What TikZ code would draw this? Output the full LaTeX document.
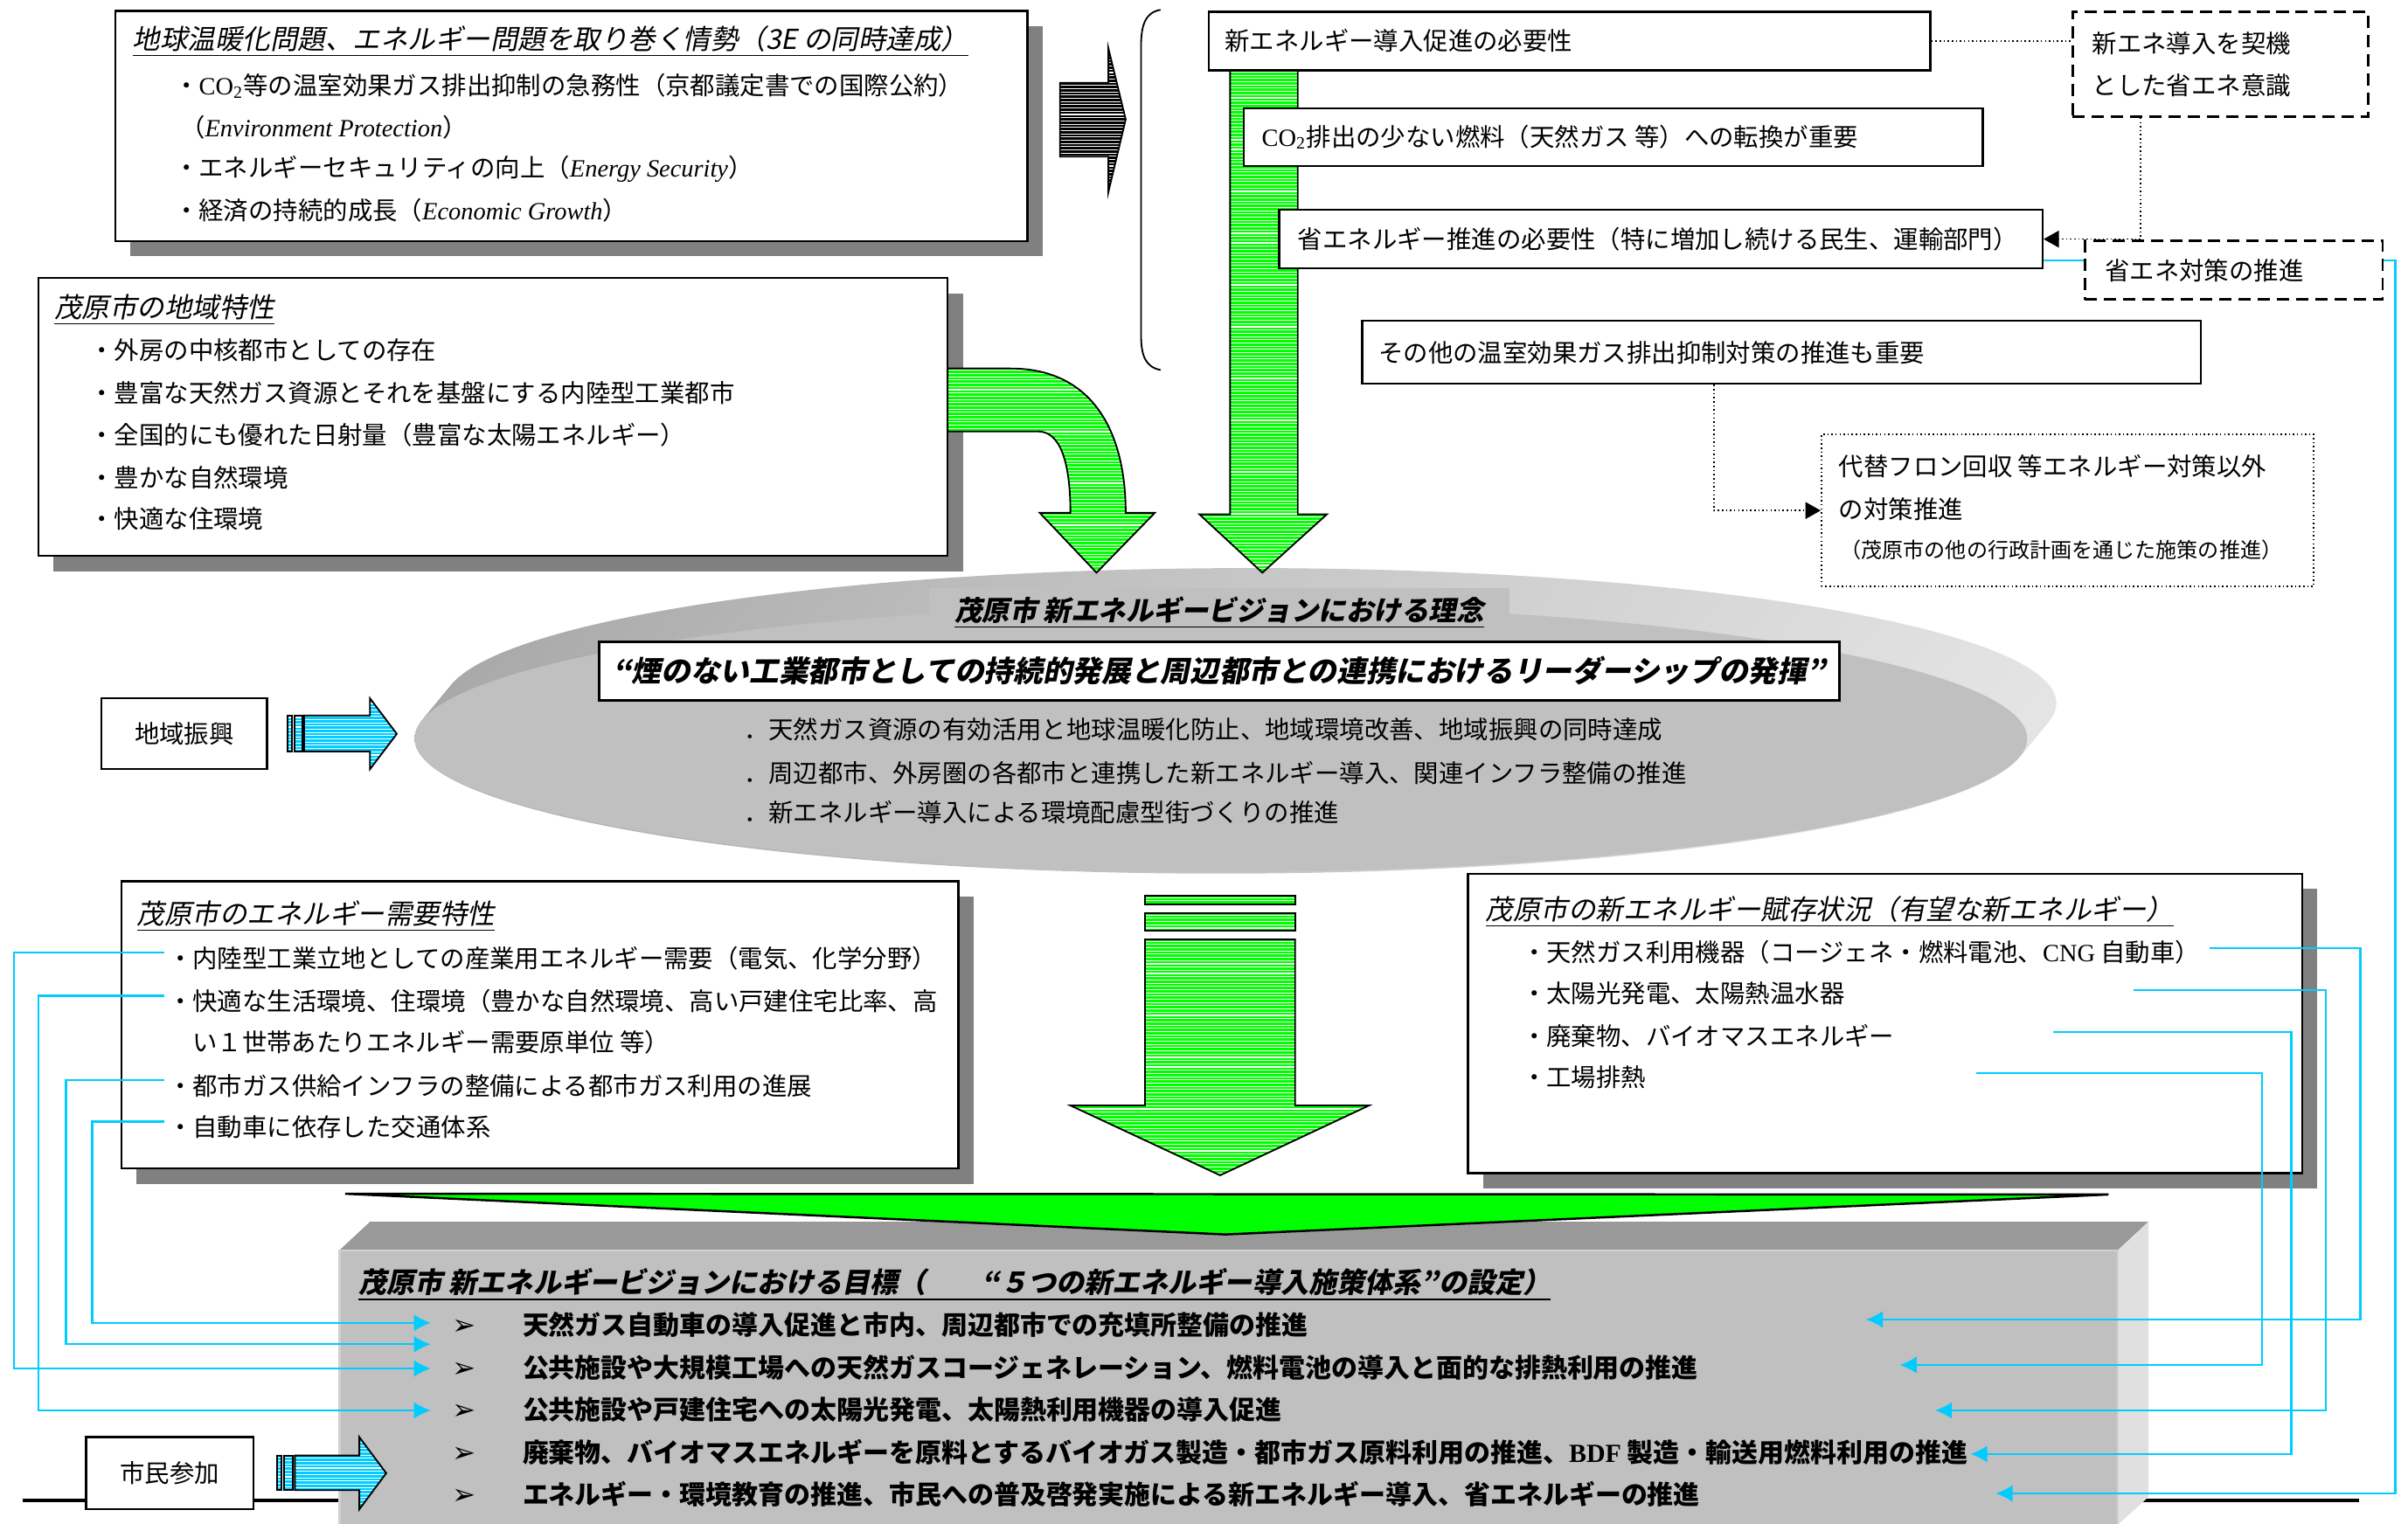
\documentclass[tikz,border=0pt]{standalone}
\usepackage{fontspec}
\setmainfont{Noto Sans CJK JP}
\newfontfamily\jpsl{Noto Sans CJK JP}[FakeSlant=0.2]
\newfontfamily\tm{Liberation Serif}
\newfontfamily\sym{DejaVu Sans}
\usetikzlibrary{arrows.meta, positioning, fit, shadows}

\definecolor{vgreen}{HTML}{00FF00}
\definecolor{vcyan}{HTML}{00CCFF}
\definecolor{shadowgray}{HTML}{808080}
\definecolor{facegray}{HTML}{C0C0C0}
\definecolor{topgray}{HTML}{999999}
\definecolor{sidegray}{HTML}{E0E0E0}
\definecolor{rimleft}{HTML}{A8A8A8}
\definecolor{rimmid}{HTML}{9C9C9C}
\definecolor{rimright}{HTML}{E4E4E4}

\newcommand{\cotwo}{{\tm CO\textsubscript{2}}}
\newcommand{\goalmark}{\makebox[9.2mm][l]{\sym\mdseries\fontsize{10.5}{10}\selectfont ➢}}

\begin{document}
\begin{tikzpicture}[
  x=0.2mm, y=-0.2mm,
  box/.style={
    draw,
    fill=white,
    line width=0.8pt,
    inner sep=0pt,
    drop shadow={shadow xshift=2mm, shadow yshift=-2mm, fill=shadowgray, opacity=1}
  },
  plainbox/.style={draw, fill=white, line width=0.8pt, inner sep=0pt},
  dashbox/.style={plainbox, line width=0.9pt, dash pattern=on 1.6mm off 0.9mm},
  dotbox/.style={plainbox, line width=0.5pt, densely dotted},
  txt/.style={anchor=west, inner sep=0.4mm, font=\fontsize{9.2}{11}\selectfont},
  label/.style={inner sep=0.4mm, font=\fontsize{9.2}{11}\selectfont},
  head/.style={anchor=west, inner sep=0.4mm, font=\fontsize{10.2}{12}\jpsl},
  goal/.style={anchor=west, inner sep=0.4mm, font=\fontsize{9.7}{12}\selectfont\bfseries},
  stripes/.style={path picture={
    \foreach \k in {0,...,170}
      \draw[white, line width=0.35pt]
        ([yshift=-0.25mm-\k*0.42mm]path picture bounding box.north west) --
        ([yshift=-0.25mm-\k*0.42mm]path picture bounding box.north east);}},
  garrow/.style={draw=black, fill=vgreen, line width=0.6pt, stripes},
  carrow/.style={draw=black, fill=vcyan, line width=0.6pt, stripes},
  link/.style={vcyan, line width=0.7pt, -{Latex[length=2.2mm, width=2.2mm]}},
  hint/.style={densely dotted, line width=0.5pt, -{Triangle[length=2mm, width=2.2mm]}}
]
\useasboundingbox (0,0) rectangle (1568,992.6);

% Ground line
\draw[line width=1.3pt] (15,977) -- (1536,977);

% Vision disc
\foreach \k in {0,...,16}
  \shade[left color=rimleft, middle color=rimmid, right color=rimright]
    ({814-19*\k/16},{458+23*\k/16}) ellipse [x radius=105mm, y radius=17.6mm];
\fill[facegray] (795,481) ellipse [x radius=105mm, y radius=17.4mm];

\node[fill=facegray, inner sep=0pt, fit={(605,383) (983,415)}] (vtitle) {};
\node[font=\fontsize{10.2}{12}\jpsl\bfseries] (vtitleT) at (vtitle.center) {\underline{茂原市 新エネルギービジョンにおける理念}};
\node[plainbox, line width=1pt, fit={(390,418) (1198,456)}] (motto) {};
\node[font=\fontsize{10.9}{13}\jpsl\bfseries] (mottoT) at (motto.center) {“煙のない工業都市としての持続的発展と周辺都市との連携におけるリーダーシップの発揮”};
\node[txt] (v1) at (482,475) {．天然ガス資源の有効活用と地球温暖化防止、地域環境改善、地域振興の同時達成};
\node[txt] (v2) at (482,503.7) {．周辺都市、外房圏の各都市と連携した新エネルギー導入、関連インフラ整備の推進};
\node[txt] (v3) at (482,529) {．新エネルギー導入による環境配慮型街づくりの推進};

% Green flow from the right column
\draw[garrow] (801,45.7) -- (845,45.7) -- (845,335) -- (864,335) -- (822,373) -- (781,335) -- (801,335) -- cycle;

% Tier 1 - Situation
\node[box, fit={(75,7) (669,157)}] (sit) {};
\node[head] (sitT) at (84,27) {\underline{地球温暖化問題、エネルギー問題を取り巻く情勢（3E の同時達成）}};
\node[txt] (sit1) at (111,56) {・\cotwo 等の温室効果ガス排出抑制の急務性（京都議定書での国際公約）};
\node[txt] (sit1b) at (115,83) {（{\tm\itshape Environment Protection}）};
\node[txt] (sit2) at (111,110) {・エネルギーセキュリティの向上（{\tm\itshape Energy Security}）};
\node[txt] (sit3) at (111,137) {・経済の持続的成長（{\tm\itshape Economic Growth}）};

\draw[fill=black, line width=0.6pt, stripes] (690.2,54) -- (721.7,54) -- (721.7,31.3) -- (733,77.8) -- (721.7,125.2) -- (721.7,102) -- (690.2,102) -- cycle;
\draw[line width=0.6pt] (755.7,6.4) .. controls (746,8) and (743,16) .. (743,30) -- (743,218) .. controls (743,232) and (746,239) .. (755.7,241);

% Tier 1 - Regional features
\node[box, fit={(25,181) (617,362)}] (reg) {};
\node[head] (regT) at (33,202) {\underline{茂原市の地域特性}};
\node[txt] (reg1) at (56,228) {・外房の中核都市としての存在};
\node[txt] (reg2) at (56,256) {・豊富な天然ガス資源とそれを基盤にする内陸型工業都市};
\node[txt] (reg3) at (56,283.5) {・全国的にも優れた日射量（豊富な太陽エネルギー）};
\node[txt] (reg4) at (56,311) {・豊かな自然環境};
\node[txt] (reg5) at (56,338) {・快適な住環境};

\draw[garrow] (617,240) -- (658,240) .. controls (712,240) and (733,282) .. (733,334) -- (752,334) -- (714,373) -- (677,334) -- (697,334) .. controls (697,300) and (690,281) .. (676,281) -- (617,281) -- cycle;

% Tier 1 - Needs
\node[plainbox, fit={(787,7.6) (1257,45.7)}] (need) {};
\node[txt, right=1.8mm of need.west] (needT) {新エネルギー導入促進の必要性};
\node[plainbox, fit={(810,70.6) (1291,108)}] (fuel) {};
\node[txt, right=2mm of fuel.west] (fuelT) {\cotwo 排出の少ない燃料（天然ガス 等）への転換が重要};
\node[plainbox, fit={(833,136.7) (1330,174.8)}] (save) {};
\node[txt, right=2.1mm of save.west] (saveT) {省エネルギー推進の必要性（特に増加し続ける民生、運輸部門）};
\node[plainbox, fit={(887,209) (1433,250)}] (ghg) {};
\node[txt, right=1.8mm of ghg.west] (ghgT) {その他の温室効果ガス排出抑制対策の推進も重要};

\node[dashbox, fit={(1349.6,7.6) (1542,76)}] (aware) {};
\node[txt] (aware1) at (1360,28.4) {新エネ導入を契機};
\node[txt] (aware2) at (1360,55.4) {とした省エネ意識};
\node[dotbox, fit={(1186,283) (1506.6,382)}] (other) {};
\node[txt] (other1) at (1195,303.6) {代替フロン回収 等エネルギー対策以外};
\node[txt] (other2) at (1195,331.6) {の対策推進};
\node[txt, font=\fontsize{7.8}{9}\selectfont] (other3) at (1196,358) {（茂原市の他の行政計画を通じた施策の推進）};

\draw[densely dotted, line width=0.5pt] (need.east) -- (need.east -| aware.west);
\draw[hint] ([xshift=9mm]aware.south west) |- (save.east);
\draw[hint] ([xshift=-8.8mm]ghg.south) |- (other.west);

% Tier 2 - Demand and resources
\node[box, fit={(79,574) (624,761)}] (dem) {};
\node[head] (demT) at (87,596.7) {\underline{茂原市のエネルギー需要特性}};
\node[txt] (dm1) at (107,624) {・内陸型工業立地としての産業用エネルギー需要（電気、化学分野）};
\node[txt] (dm2) at (107,652) {・快適な生活環境、住環境（豊かな自然環境、高い戸建住宅比率、高};
\node[txt] (dm2b) at (123,679) {い１世帯あたりエネルギー需要原単位 等）};
\node[txt] (dm3) at (107,707) {・都市ガス供給インフラの整備による都市ガス利用の進展};
\node[txt] (dm4) at (107,734) {・自動車に依存した交通体系};

\node[box, fit={(956,569) (1499,764)}] (res) {};
\node[head] (resT) at (965,593.8) {\underline{茂原市の新エネルギー賦存状況（有望な新エネルギー）}};
\node[txt] (rs1T) at (988.6,620.4) {・天然ガス利用機器（コージェネ・燃料電池、{\tm CNG} 自動車）};
\node[txt] (rs2T) at (988.6,647) {・太陽光発電、太陽熱温水器};
\node[txt] (rs3T) at (988.6,674.5) {・廃棄物、バイオマスエネルギー};
\node[txt] (rs4T) at (988.6,701.8) {・工場排熱};

\draw[garrow] (745.6,583.4) rectangle (843.3,589);
\draw[garrow] (745.6,594.8) rectangle (843.3,606.2);
\draw[garrow] (745.6,611.8) -- (843.3,611.8) -- (843.3,720) -- (891.5,720) -- (794.5,765.5) -- (697,720) -- (745.6,720) -- cycle;

% Tier 3 - Goals
\fill[topgray] (221,814.3) -- (241,795.7) -- (1399,795.7) -- (1379,814.3) -- cycle;
\fill[sidegray] (1379,814.3) -- (1399,795.7) -- (1399,975) -- (1379,993) -- cycle;
\node[fill=facegray, draw=black!18, line width=0.8pt, inner sep=0pt, fit={(221,814.3) (1379,996)}] (goalbox) {};
\draw[fill=vgreen, line width=0.8pt] (224.8,777.5) -- (1373,778) -- (798,804) -- cycle;

\node[head, font=\fontsize{10.4}{12}\jpsl\bfseries] (goalT) at (231,836.7) {\underline{茂原市 新エネルギービジョンにおける目標（　　“５つの新エネルギー導入施策体系”の設定）}};
\node[goal] (g1) at (292,863) {\goalmark 天然ガス自動車の導入促進と市内、周辺都市での充填所整備の推進};
\node[goal] (g2) at (292,890.7) {\goalmark 公共施設や大規模工場への天然ガスコージェネレーション、燃料電池の導入と面的な排熱利用の推進};
\node[goal] (g3) at (292,918) {\goalmark 公共施設や戸建住宅への太陽光発電、太陽熱利用機器の導入促進};
\node[goal] (g4) at (292,945.7) {\goalmark 廃棄物、バイオマスエネルギーを原料とするバイオガス製造・都市ガス原料利用の推進、{\tm BDF} 製造・輸送用燃料利用の推進};
\node[goal] (g5) at (292,973) {\goalmark エネルギー・環境教育の推進、市民への普及啓発実施による新エネルギー導入、省エネルギーの推進};

% Side inputs
\node[plainbox, fit={(66,454.8) (174,501)}] (region) {};
\node[label] (regionT) at (region.center) {地域振興};
\draw[carrow] (187.3,466) rectangle (190.1,489.5);
\draw[carrow] (191.8,466) rectangle (196.9,489.5);
\draw[carrow] (198,466) -- (240.9,466) -- (240.9,454.8) -- (258.4,478) -- (240.9,501) -- (240.9,489.5) -- (198,489.5) -- cycle;

\node[plainbox, fit={(56,936) (165,983)}] (citizen) {};
\node[label] (citizenT) at (citizen.center) {市民参加};
\draw[carrow] (180.4,948) rectangle (183.5,970.5);
\draw[carrow] (185,948) rectangle (190.7,970.5);
\draw[carrow] (192,948) -- (234,948) -- (234,936) -- (251.5,959.5) -- (234,983) -- (234,970.5) -- (192,970.5) -- cycle;

% Links
\coordinate (gl1) at (280.5,861.6);
\coordinate (gl15) at (280.5,875.5);
\coordinate (gl2) at (280.5,891.3);
\coordinate (gl3) at (280.5,918.6);
\coordinate (gr1) at (1215,859.4);
\coordinate (gr2) at (1237,889);
\coordinate (gr3) at (1260,918.6);
\coordinate (gr4) at (1283,947);
\coordinate (gr5) at (1299.5,972.7);
\coordinate (rs1) at (1439,617.5);
\coordinate (rs2) at (1389,645);
\coordinate (rs3) at (1337,672);
\coordinate (rs4) at (1287,699);

\draw[link] ([yshift=0.7mm]dm1.west) -- ++(-98,0) |- (gl2);
\draw[link] ([yshift=0.7mm]dm2.west) -- ++(-82,0) |- (gl3);
\draw[link] ([yshift=0.7mm]dm3.west) -- ++(-64,0) |- (gl15);
\draw[link] ([yshift=0.7mm]dm4.west) -- ++(-47,0) |- (gl1);

\draw[link] (rs1) -- ++(98,0) |- (gr1);
\draw[link] (rs2) -- ++(125.5,0) |- (gr3);
\draw[link] (rs3) -- ++(155,0) |- (gr4);
\draw[link] (rs4) -- ++(186,0) |- (gr2);
\draw[link] ([yshift=1.2mm]save.south east) -- ++(229,0) |- (gr5);

\node[dashbox, fit={(1357.6,157) (1551.5,195)}] (measure) {};
\node[txt, right=2.3mm of measure.west] (measureT) {省エネ対策の推進};

\end{tikzpicture}
\end{document}
